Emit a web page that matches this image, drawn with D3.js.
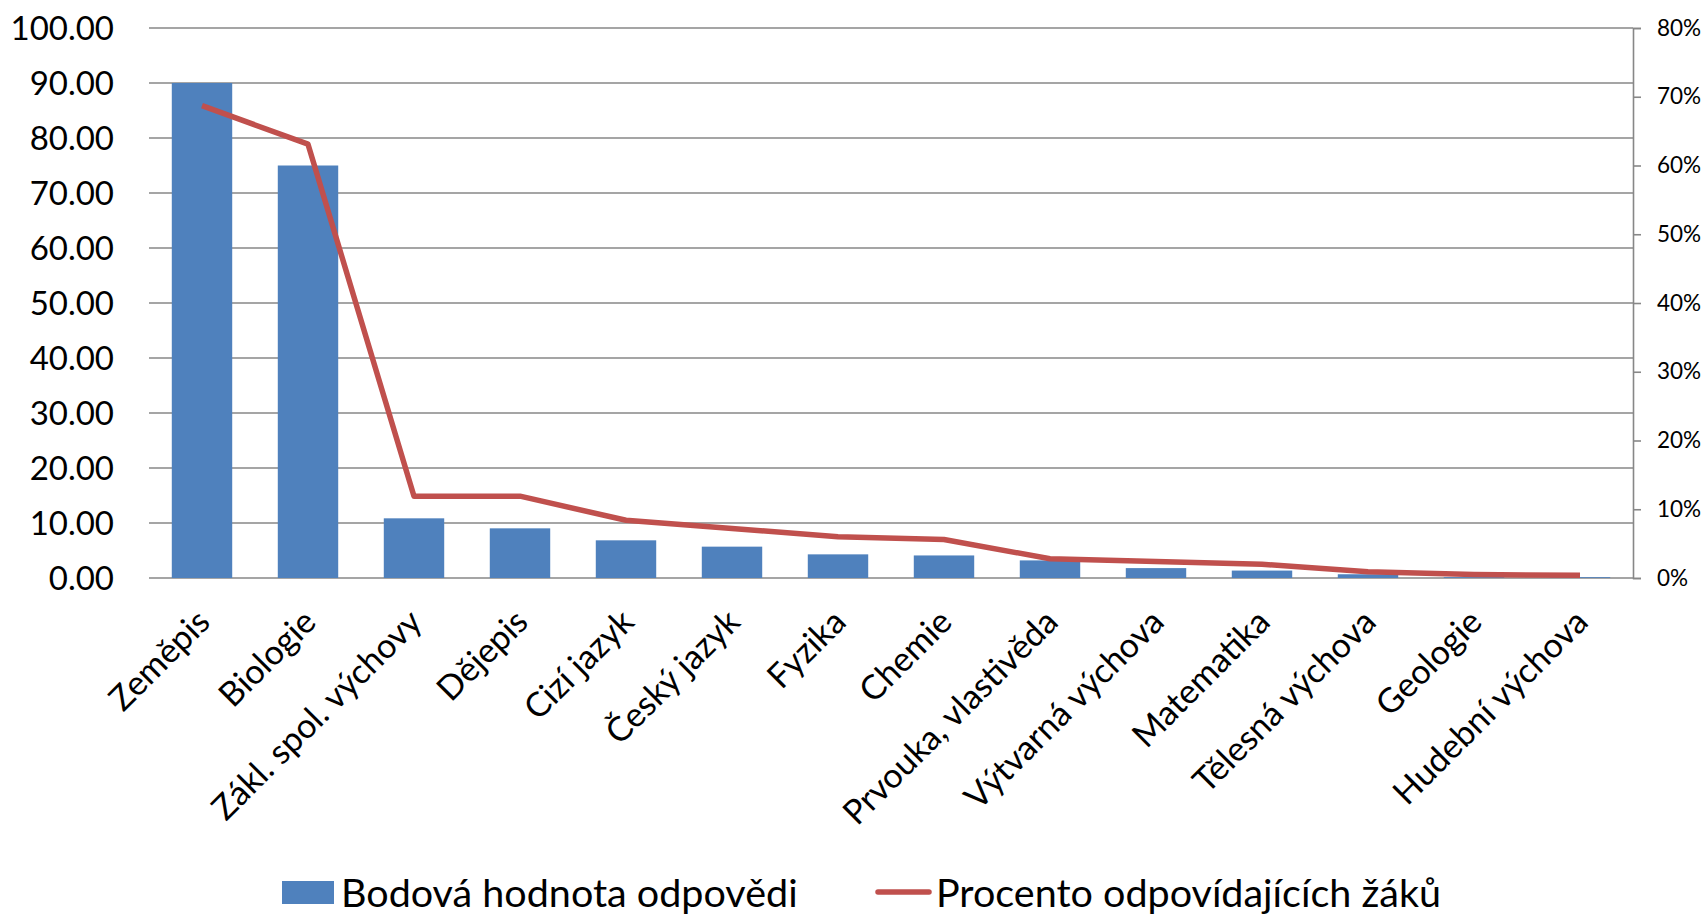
<!DOCTYPE html>
<html>
<head>
<meta charset="utf-8">
<script src="https://cdn.jsdelivr.net/npm/d3@7"></script>
<style>
    html, body { margin: 0; padding: 0; background: #fff; }
    svg { display: block; font-family: Lato, "Open Sans", sans-serif; }
</style>
</head>
<body>
<svg id="chart" width="1707" height="916"></svg>
<script>
const subjects = ['Zeměpis', 'Biologie', 'Zákl. spol. výchovy', 'Dějepis', 'Cizí jazyk', 'Český jazyk',
    'Fyzika', 'Chemie', 'Prvouka, vlastivěda', 'Výtvarná výchova', 'Matematika', 'Tělesná výchova',
    'Geologie', 'Hudební výchova'];
const points = [90.0, 75.0, 10.85, 9.03, 6.85, 5.7, 4.3, 4.1, 3.2, 1.8, 1.35, 0.68, 0.15, 0.15];
const percent = [68.7, 63.1, 11.9, 11.9, 8.4, 7.2, 6.0, 5.6, 2.8, 2.4, 2.0, 0.9, 0.5, 0.4];
const leftTicks = [0, 10, 20, 30, 40, 50, 60, 70, 80, 90, 100];
const rightTicks = [0, 10, 20, 30, 40, 50, 60, 70, 80];
const seriesNames = ['Bodová hodnota odpovědi', 'Procento odpovídajících žáků'];

const blue = '#4F81BD';
const red = '#C0504D';
const grid = '#878787';

const margin = { top: 28, right: 74, bottom: 338, left: 149 };
const width = 1707 - margin.left - margin.right;
const height = 916 - margin.top - margin.bottom;

const svg = d3.select('#chart');
const g = svg.append('g').attr('transform', `translate(${margin.left},${margin.top})`);

const x = d3.scaleBand().domain(subjects).range([0, width]).paddingInner(0.43).paddingOuter(0.215);
const yL = d3.scaleLinear().domain([0, 100]).range([height, 0]);
const yR = d3.scaleLinear().domain([0, 80]).range([height, 0]);

// gridlines
g.append('g')
    .selectAll('line')
    .data(leftTicks)
    .enter().append('line')
    .attr('x1', 0)
    .attr('x2', width)
    .attr('y1', d => yL(d))
    .attr('y2', d => yL(d))
    .attr('stroke', grid)
    .attr('stroke-width', 1.6);

// left axis labels
g.append('g')
    .selectAll('text')
    .data(leftTicks)
    .enter().append('text')
    .attr('x', -35)
    .attr('y', d => yL(d))
    .attr('dy', '0.36em')
    .attr('text-anchor', 'end')
    .attr('font-size', 33)
    .attr('fill', '#000')
    .text(d => d.toFixed(2));

// right axis
const right = g.append('g').attr('transform', `translate(${width},0)`);
right.call(d3.axisRight(yR).tickValues(rightTicks).tickSize(8).tickPadding(16).tickFormat(d => d + '%'));
right.select('.domain').attr('stroke', grid).attr('stroke-width', 1.6);
right.selectAll('.tick line').attr('stroke', grid).attr('stroke-width', 1.6);
right.selectAll('.tick text')
    .attr('font-size', 22.5)
    .attr('font-family', 'Lato, sans-serif')
    .attr('fill', '#000');

// bars
g.append('g')
    .selectAll('rect')
    .data(points)
    .enter().append('rect')
    .attr('x', (d, i) => x(subjects[i]))
    .attr('y', d => yL(d))
    .attr('width', x.bandwidth())
    .attr('height', d => height - yL(d))
    .attr('fill', blue);

// line
const line = d3.line()
    .x((d, i) => x(subjects[i]) + x.bandwidth() / 2)
    .y(d => yR(d));

g.append('path')
    .datum(percent)
    .attr('d', line)
    .attr('fill', 'none')
    .attr('stroke', red)
    .attr('stroke-width', 5.5)
    .attr('stroke-linejoin', 'round');

// category labels
g.append('g')
    .selectAll('text')
    .data(subjects)
    .enter().append('text')
    .attr('transform', d => `translate(${x(d) + x.bandwidth() / 2 + 10},${height + 46}) rotate(-45)`)
    .attr('text-anchor', 'end')
    .attr('font-size', 34)
    .attr('fill', '#000')
    .text(d => d);

// legend
const legend = svg.append('g');
legend.append('rect')
    .attr('x', 282).attr('y', 881)
    .attr('width', 52).attr('height', 23)
    .attr('fill', blue);
legend.append('text')
    .attr('x', 341).attr('y', 893)
    .attr('dy', '0.36em')
    .attr('font-size', 39.5)
    .text(seriesNames[0]);
legend.append('line')
    .attr('x1', 878).attr('x2', 929)
    .attr('y1', 892).attr('y2', 892)
    .attr('stroke', red)
    .attr('stroke-width', 5.5)
    .attr('stroke-linecap', 'round');
legend.append('text')
    .attr('x', 936).attr('y', 893)
    .attr('dy', '0.36em')
    .attr('font-size', 39.5)
    .text(seriesNames[1]);
</script>
</body>
</html>
